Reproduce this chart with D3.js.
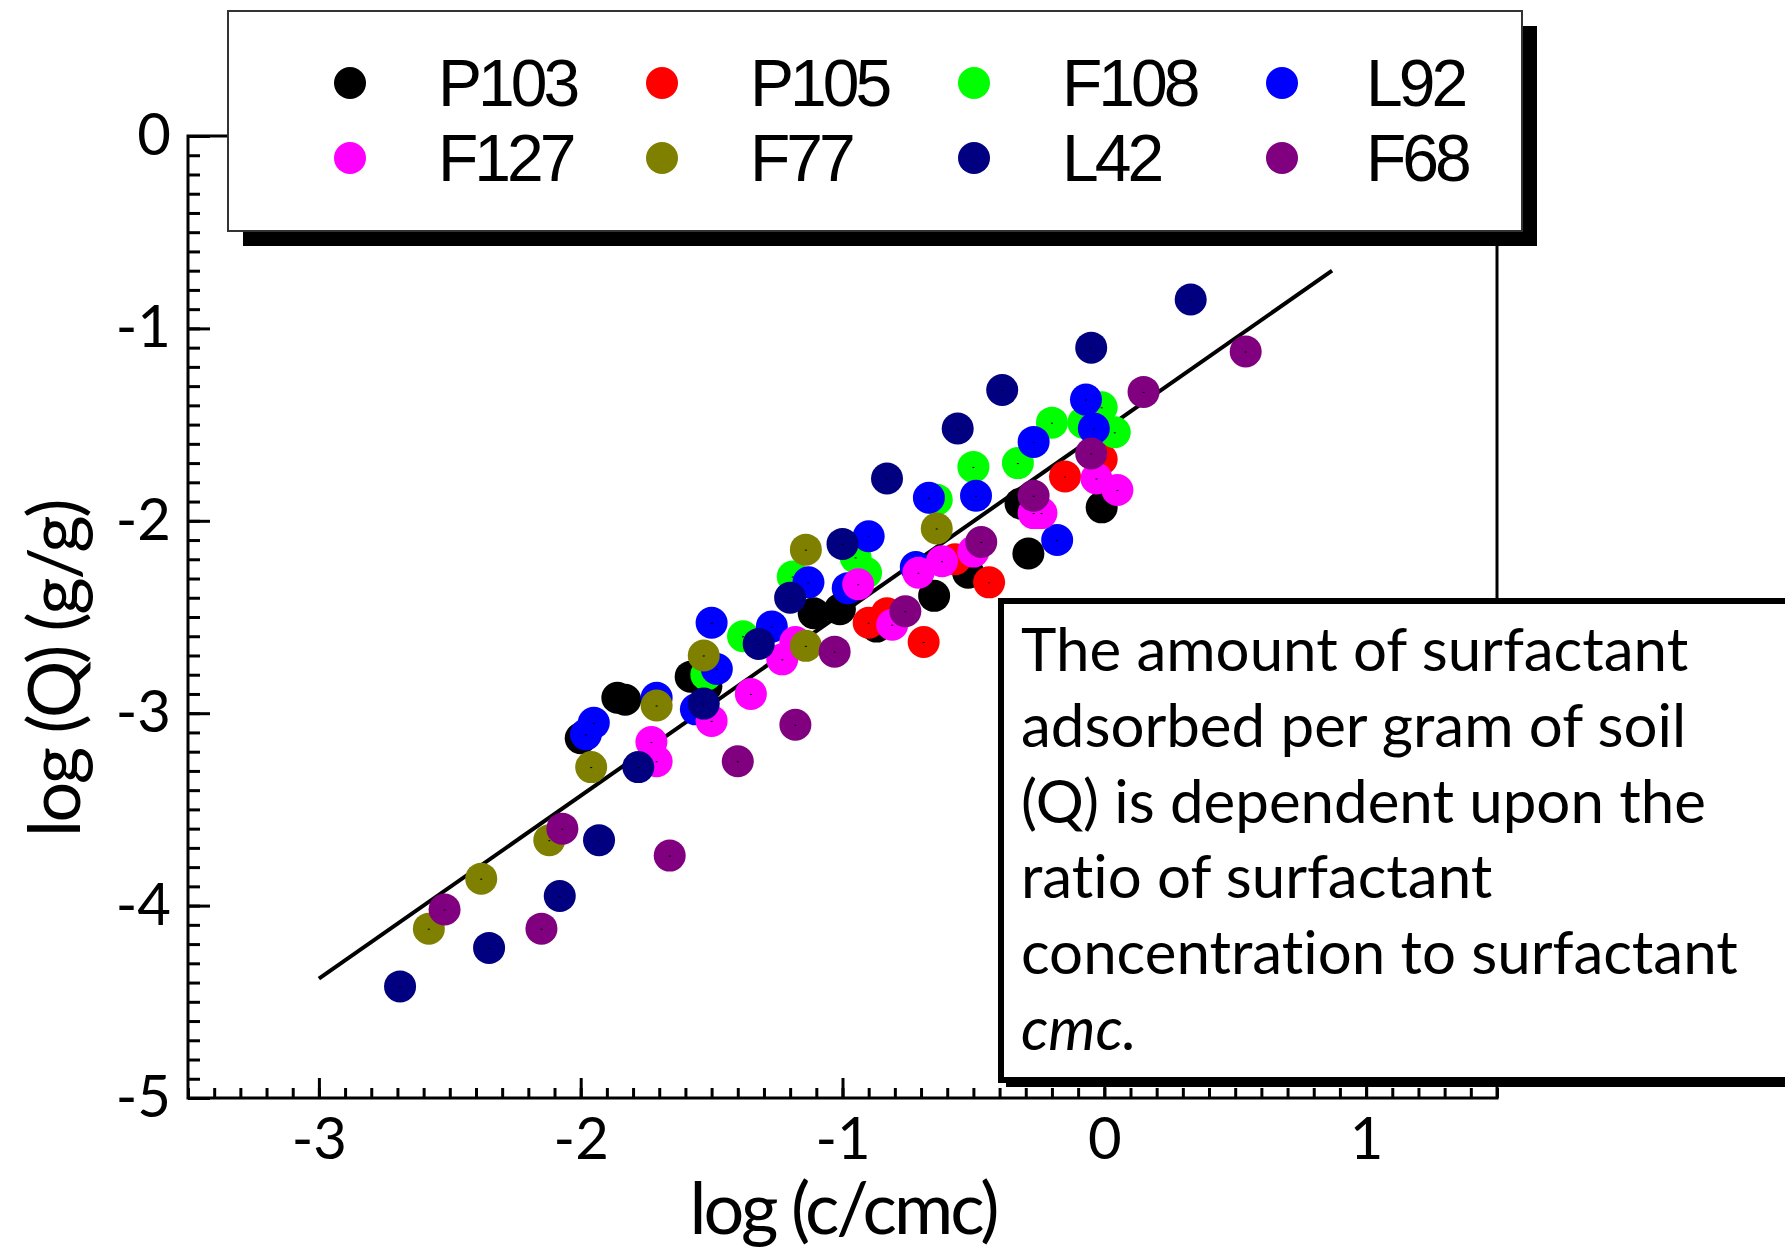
<!DOCTYPE html>
<html>
<head>
<meta charset="utf-8">
<script src="https://cdn.jsdelivr.net/npm/d3@7"></script>
<style>
  html, body { margin: 0; padding: 0; background: #fff; }
  svg { display: block; }
</style>
</head>
<body>
<svg id="chart" width="1785" height="1253"></svg>
<script>
// series, in legend order (also the drawing order)
const seriesNames = ["P103", "P105", "F108", "L92", "F127", "F77", "L42", "F68"];
const seriesColors = ["#000000", "#ff0000", "#00ff00", "#0000ff", "#ff00ff", "#808000", "#000080", "#800080"];

// [log(c/cmc), log(Q)]
const p103 = [[-2.00, -3.13], [-1.86, -2.92], [-1.83, -2.93], [-1.58, -2.81], [-1.52, -2.86],
    [-1.11, -2.48], [-1.01, -2.46], [-0.87, -2.55], [-0.65, -2.39], [-0.52, -2.27],
    [-0.29, -2.17], [-0.32, -1.91], [-0.01, -1.93]];
const p105 = [[-0.90, -2.53], [-0.83, -2.48], [-0.69, -2.63], [-0.57, -2.20], [-0.44, -2.32],
    [-0.15, -1.77], [-0.01, -1.68]];
const f108 = [[-1.52, -2.80], [-1.38, -2.60], [-1.19, -2.29], [-0.95, -2.19], [-0.91, -2.27],
    [-0.64, -1.89], [-0.50, -1.72], [-0.33, -1.70], [-0.20, -1.49], [-0.08, -1.49],
    [-0.01, -1.41], [0.04, -1.54]];
const l92 = [[-1.98, -3.11], [-1.95, -3.05], [-1.71, -2.92], [-1.56, -2.98], [-1.50, -2.53],
    [-1.48, -2.77], [-1.27, -2.55], [-1.13, -2.32], [-0.98, -2.35], [-0.90, -2.08],
    [-0.72, -2.24], [-0.67, -1.88], [-0.49, -1.87], [-0.27, -1.59], [-0.18, -2.10],
    [-0.07, -1.37], [-0.04, -1.52]];
const f127 = [[-1.73, -3.15], [-1.71, -3.25], [-1.50, -3.04], [-1.35, -2.90], [-1.23, -2.72],
    [-1.18, -2.63], [-0.94, -2.33], [-0.81, -2.54], [-0.71, -2.27], [-0.62, -2.21],
    [-0.50, -2.16], [-0.27, -1.96], [-0.24, -1.96], [-0.03, -1.78], [0.05, -1.84]];
const f77 = [[-2.58, -4.12], [-2.38, -3.86], [-2.12, -3.66], [-1.96, -3.28], [-1.71, -2.96],
    [-1.53, -2.70], [-1.14, -2.15], [-1.14, -2.65], [-0.64, -2.04]];
const l42 = [[-2.69, -4.42], [-2.35, -4.22], [-2.08, -3.95], [-1.93, -3.66], [-1.78, -3.28],
    [-1.53, -2.95], [-1.32, -2.64], [-1.20, -2.40], [-1.00, -2.12], [-0.83, -1.78],
    [-0.56, -1.52], [-0.39, -1.32], [-0.05, -1.10], [0.33, -0.85]];
const f68 = [[-2.52, -4.02], [-2.15, -4.12], [-2.07, -3.60], [-1.66, -3.74], [-1.40, -3.25],
    [-1.18, -3.06], [-1.03, -2.68], [-0.76, -2.47], [-0.47, -2.11], [-0.27, -1.87],
    [-0.05, -1.65], [0.15, -1.33], [0.54, -1.12]];
const seriesData = [p103, p105, f108, l92, f127, f77, l42, f68];

// fitted line end points
const fitLine = [[-3.0, -4.38], [0.87, -0.70]];

const xMajor = [-3, -2, -1, 0, 1];
const yMajor = [0, -1, -2, -3, -4, -5];

const noteLines = ["The amount of surfactant", "adsorbed per gram of soil",
    "(Q) is dependent upon the", "ratio of surfactant", "concentration to surfactant"];
const noteLast = "cmc.";

const svg = d3.select("#chart");
const labelFont = "Lato, 'Open Sans', sans-serif";

const x = d3.scaleLinear().domain([-3.5, 1.5]).range([188, 1497]);
const y = d3.scaleLinear().domain([-5, 0]).range([1098, 136]);

// minor ticks every 0.1
const xMinor = d3.range(-35, 16).map(i => i / 10);
const yMinor = d3.range(-50, 1).map(i => i / 10);

// plain hyphen for negatives, as in the original
const plainFmt = d => String(d);

function styleAxis(g) {
    g.select(".domain").remove();
    g.selectAll(".tick line").attr("stroke", "#000").attr("stroke-width", 3);
    g.selectAll("text").attr("font-family", labelFont).attr("font-size", 58).attr("fill", "#000");
}
function dropText(g) {
    g.selectAll("text").remove();
}

svg.append("g")
    .attr("transform", `translate(0,${y(-5)})`)
    .call(d3.axisBottom(x).tickValues(xMinor).tickSize(-10))
    .call(styleAxis).call(dropText);
svg.append("g")
    .attr("transform", `translate(0,${y(-5)})`)
    .call(d3.axisBottom(x).tickValues(xMajor).tickSize(-20).tickPadding(20).tickFormat(plainFmt))
    .call(styleAxis);

svg.append("g")
    .attr("transform", `translate(${x(-3.5)},0)`)
    .call(d3.axisLeft(y).tickValues(yMinor).tickSize(-12))
    .call(styleAxis).call(dropText);
svg.append("g")
    .attr("transform", `translate(${x(-3.5)},0)`)
    .call(d3.axisLeft(y).tickValues(yMajor).tickSize(-22).tickPadding(17).tickFormat(plainFmt))
    .call(styleAxis);

// frame
svg.append("rect")
    .attr("x", x(-3.5)).attr("y", y(0))
    .attr("width", x(1.5) - x(-3.5)).attr("height", y(-5) - y(0))
    .attr("fill", "none").attr("stroke", "#000").attr("stroke-width", 3);

// fitted line
svg.append("line")
    .attr("x1", x(fitLine[0][0])).attr("y1", y(fitLine[0][1]))
    .attr("x2", x(fitLine[1][0])).attr("y2", y(fitLine[1][1]))
    .attr("stroke", "#000").attr("stroke-width", 4);

// points
seriesData.forEach((pts, i) => {
    const g = svg.append("g");
    g.selectAll("circle")
        .data(pts)
        .join("circle")
        .attr("cx", d => x(d[0]))
        .attr("cy", d => y(d[1]))
        .attr("r", 16)
        .attr("fill", seriesColors[i]);
    g.selectAll("rect")
        .data(pts)
        .join("rect")
        .attr("x", d => x(d[0]) - 1)
        .attr("y", d => y(d[1]))
        .attr("width", 2).attr("height", 1)
        .attr("fill", "#000");
});

// axis titles
svg.append("text")
    .attr("x", 843).attr("y", 1234)
    .attr("text-anchor", "middle")
    .attr("font-family", labelFont).attr("font-size", 72)
    .attr("letter-spacing", -3)
    .text("log (c/cmc)");

svg.append("text")
    .attr("transform", "translate(80,669) rotate(-90)")
    .attr("text-anchor", "middle")
    .attr("font-family", labelFont).attr("font-size", 72)
    .attr("letter-spacing", -2.5)
    .text("log (Q) (g/g)");

// legend box with shadow
svg.append("rect")
    .attr("x", 243).attr("y", 26).attr("width", 1294).attr("height", 220)
    .attr("fill", "#000");
svg.append("rect")
    .attr("x", 228).attr("y", 11).attr("width", 1294).attr("height", 220)
    .attr("fill", "#fff").attr("stroke", "#333").attr("stroke-width", 2);

const legendCols = [350, 662, 974, 1282];
const legendRows = [83, 158];
const legend = svg.append("g").selectAll("g")
    .data(seriesNames)
    .join("g")
    .attr("transform", (d, i) => `translate(${legendCols[i % 4]},${legendRows[Math.floor(i / 4)]})`);
legend.append("circle")
    .attr("r", 16)
    .attr("fill", (d, i) => seriesColors[i]);
legend.append("text")
    .attr("x", (d, i) => i % 4 === 3 ? 84 : 88).attr("y", 23)
    .attr("font-family", "'Liberation Sans', Arial, sans-serif")
    .attr("font-size", 66)
    .attr("letter-spacing", -4)
    .text(d => d);

// note box
svg.append("rect")
    .attr("x", 1006).attr("y", 606).attr("width", 820).attr("height", 481)
    .attr("fill", "#000");
svg.append("rect")
    .attr("x", 1001).attr("y", 601).attr("width", 820).attr("height", 479)
    .attr("fill", "#fff").attr("stroke", "#000").attr("stroke-width", 6);

const note = svg.append("g")
    .attr("font-family", labelFont).attr("font-size", 60).attr("fill", "#000")
    .style("font-variant-ligatures", "none");
noteLines.forEach((t, i) => {
    note.append("text").attr("x", 1021).attr("y", 671 + i * 75.8).text(t);
});
note.append("text")
    .attr("x", 1021).attr("y", 671 + noteLines.length * 75.8)
    .attr("font-style", "italic")
    .text(noteLast);
</script>
</body>
</html>
